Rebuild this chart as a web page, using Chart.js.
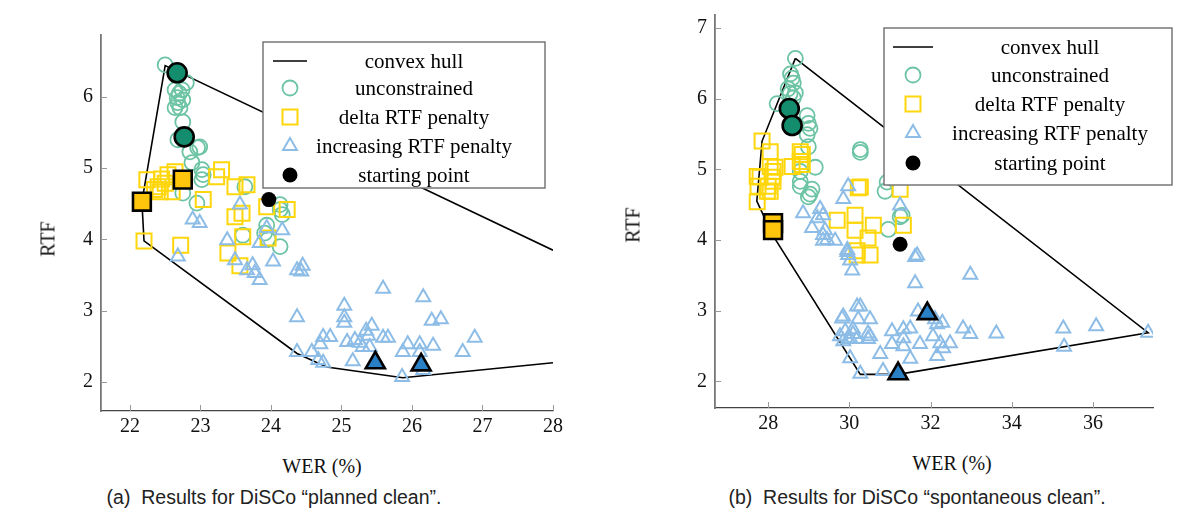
<!DOCTYPE html>
<html>
<head>
<meta charset="utf-8">
<script src="https://cdn.jsdelivr.net/npm/chart.js@4/dist/chart.umd.min.js"></script>
<style>
  body { margin:0; background:#fff; width:1182px; height:517px; position:relative; overflow:hidden; }
  canvas { position:absolute; top:0; }
  .lbl { position:absolute; font-family:"Liberation Serif", serif; font-size:20px; color:#111; white-space:nowrap; transform:translate(-50%,-50%); }
  .rot { transform:translate(-50%,-50%) rotate(-90deg); }
  .cap { position:absolute; font-family:"Liberation Sans", Arial, sans-serif; font-size:19.5px; color:#222; white-space:pre; transform:translate(-50%,-50%); }
</style>
</head>
<body>
<canvas id="chartA" width="590" height="450" style="left:0px"></canvas>
<canvas id="chartB" width="592" height="450" style="left:590px"></canvas>
<div class="lbl rot" style="left:48px;top:239px">RTF</div>
<div class="lbl rot" style="left:633px;top:225px">RTF</div>
<div class="lbl" style="left:322px;top:466px">WER (%)</div>
<div class="lbl" style="left:952px;top:463px">WER (%)</div>
<div class="cap" style="left:274px;top:497px">(a)  Results for DiSCo “planned clean”.</div>
<div class="cap" style="left:917px;top:497px">(b)  Results for DiSCo “spontaneous clean”.</div>
<script>
// ---- data: [WER %, RTF] ----
const legendLabels = ["convex hull", "unconstrained", "delta RTF penalty", "increasing RTF penalty", "starting point"];

// (a) planned clean
const plannedXTicks = [22, 23, 24, 25, 26, 27, 28];
const plannedYTicks = [2, 3, 4, 5, 6];
const plannedHull = [[28,3.85],[22.50,6.44],[22.17,4.53],[22.20,3.98],[24.37,2.40],[24.79,2.21],[25.87,2.06],[28,2.27]];
const plannedUnconstrained = [[22.50,6.45],[22.64,6.10],[22.74,6.10],[22.67,5.99],[22.75,5.96],[22.64,5.85],[22.71,5.85],[22.70,6.05],
  [22.68,5.92],[22.80,6.20],[22.75,5.65],[22.68,5.40],[22.96,5.29],[22.99,5.30],[22.85,5.23],[22.88,5.08],[23.02,4.98],[23.04,4.91],
  [23.02,4.84],[22.75,4.65],[22.95,4.51],[23.63,4.74],[24.13,4.49],[23.94,4.20],[23.91,4.09],[23.60,4.06],[24.16,4.35],[23.96,4.00],
  [24.13,3.90],[24.13,4.42]];
const plannedDelta = [[22.24,4.84],[22.40,4.74],[22.50,4.79],[22.54,4.91],[22.64,4.95],[22.43,4.67],[22.60,4.67],[22.35,4.70],[22.45,4.85],
  [23.04,4.56],[23.30,4.98],[23.23,4.88],[23.49,4.74],[23.66,4.77],[23.49,4.32],[23.59,4.37],[23.94,4.46],[24.23,4.42],[22.20,3.98],
  [22.72,3.92],[23.60,4.04],[23.39,3.81],[23.56,3.63],[23.96,4.02]];
const plannedIncreasing = [[22.89,4.28],[22.99,4.23],[22.68,3.76],[23.38,3.99],[23.49,3.71],[23.56,4.49],[23.66,3.57],[23.74,3.64],
  [23.77,3.53],[23.84,3.43],[23.84,3.95],[23.94,4.16],[24.16,4.13],[24.03,3.69],[24.37,3.57],[24.45,3.63],[24.43,3.55],[24.37,2.91],
  [24.37,2.42],[25.59,3.31],[26.16,3.19],[25.04,3.07],[25.04,2.91],[25.04,2.83],[26.28,2.86],[26.41,2.88],[26.89,2.62],[25.43,2.79],
  [25.35,2.72],[25.38,2.65],[24.74,2.63],[24.84,2.63],[24.70,2.53],[24.58,2.42],[25.08,2.56],[25.19,2.59],[25.26,2.55],[25.30,2.49],
  [25.40,2.49],[25.59,2.62],[25.66,2.62],[25.94,2.53],[26.11,2.53],[26.30,2.51],[25.87,2.42],[26.11,2.42],[26.72,2.42],[24.67,2.31],
  [24.74,2.27],[25.16,2.29],[25.86,2.07],[26.16,2.17]];
const plannedBestUnconstrained = [[22.67,6.34],[22.77,5.44]];
const plannedBestDelta = [[22.17,4.53],[22.75,4.84]];
const plannedBestIncreasing = [[25.48,2.27],[26.13,2.24]];
const plannedStart = [[23.97,4.56]];

// (b) spontaneous clean
const spontXTicks = [28, 30, 32, 34, 36];
const spontYTicks = [2, 3, 4, 5, 6, 7];
const spontHull = [[28.67,6.57],[27.85,5.40],[27.72,4.55],[28.10,4.08],[30.27,2.10],[31.20,2.10],[37.36,2.69],[28.67,6.57]];
const spontUnconstrained = [[28.67,6.57],[28.55,6.35],[28.59,6.29],[28.62,6.22],[28.49,6.14],[28.54,6.07],[28.67,6.08],[28.62,6.01],
  [28.22,5.93],[28.96,5.76],[28.99,5.65],[29.03,5.58],[28.96,5.49],[28.99,5.32],[29.16,5.03],[28.79,4.97],[28.79,4.83],[29.08,4.72],
  [28.99,4.61],[28.79,4.76],[29.03,4.65],[30.27,5.28],[30.27,5.24],[30.88,4.69],[30.93,4.82],[31.25,4.33],[31.30,4.35],[30.96,4.15]];
const spontDelta = [[27.85,5.40],[28.05,5.25],[27.73,4.90],[27.80,4.89],[28.05,5.04],[28.17,5.03],[28.12,4.97],[28.10,4.89],[28.12,4.83],
  [28.00,4.76],[27.98,4.69],[28.05,4.69],[27.75,4.76],[27.73,4.54],[28.59,5.04],[28.79,5.25],[28.84,5.21],[28.79,5.11],[28.84,5.07],
  [30.27,4.75],[30.22,4.74],[29.70,4.28],[30.14,4.35],[30.14,4.14],[30.59,4.21],[30.46,4.03],[30.51,3.79],[30.19,3.79],[31.25,4.72],
  [31.33,4.21],[30.19,3.85]];
const spontIncreasing = [[29.97,4.76],[29.85,4.58],[31.25,4.49],[28.86,4.38],[29.21,4.31],[29.28,4.44],[29.35,4.35],[29.08,4.17],
  [29.40,4.14],[29.65,3.99],[29.35,3.99],[29.95,3.86],[29.97,3.79],[31.62,3.76],[29.35,4.07],[29.45,4.00],[29.95,3.83],[30.02,3.71],
  [30.07,3.57],[29.82,2.89],[29.77,2.64],[29.90,2.71],[29.97,2.60],[30.19,2.60],[30.19,3.06],[30.02,2.33],[31.67,3.78],[32.98,3.51],
  [31.62,3.39],[31.69,2.99],[30.27,3.06],[29.85,2.92],[30.22,2.88],[30.51,2.88],[32.11,2.88],[32.29,2.83],[32.16,2.81],[31.50,2.75],
  [31.33,2.74],[31.05,2.71],[31.33,2.61],[32.80,2.75],[32.98,2.67],[33.62,2.68],[30.09,2.74],[30.09,2.67],[30.46,2.68],[30.51,2.64],
  [30.02,2.61],[30.46,2.60],[29.85,2.57],[32.06,2.64],[32.24,2.54],[32.48,2.54],[32.31,2.47],[31.74,2.53],[31.05,2.53],[31.33,2.50],
  [30.76,2.39],[31.50,2.32],[32.16,2.36],[30.27,2.11],[30.83,2.15],[35.27,2.75],[35.29,2.49],[36.08,2.78],[37.36,2.69]];
const spontBestUnconstrained = [[28.52,5.86],[28.59,5.62]];
const spontBestDelta = [[28.12,4.24],[28.12,4.14]];
const spontBestIncreasing = [[31.20,2.11],[31.92,2.96]];
const spontStart = [[31.25,3.94]];

const GREEN = "#6cc4a4", GREEN_DARK = "#138d6e";
const YELLOW = "#ffd60a", YELLOW_DARK = "#ffc40c";
const BLUE = "#8dbde6", BLUE_DARK = "#2a80c4";
const SERIF = "'Liberation Serif', serif";

function toPoints(pairs) {
  return pairs.map((p) => ({ x: p[0], y: p[1] }));
}

function scatterSet(pairs, style, radius, fill, stroke, width, order) {
  return {
    data: toPoints(pairs),
    pointStyle: style,
    pointRadius: radius,
    pointBackgroundColor: fill,
    pointBorderColor: stroke,
    pointBorderWidth: width,
    order: order,
  };
}

function buildDatasets(s) {
  return [
    { data: toPoints(s.hull), showLine: true, borderColor: "#000", borderWidth: 1.6, pointRadius: 0, fill: false, order: 9 },
    scatterSet(s.unc, "circle", 7.5, "rgba(0,0,0,0)", GREEN, 1.8, 8),
    scatterSet(s.delta, "rect", 10.6, "rgba(0,0,0,0)", YELLOW, 2, 7),
    scatterSet(s.inc, "triangle", 8, "rgba(0,0,0,0)", BLUE, 2, 6),
    scatterSet(s.start, "circle", 7.5, "#000", "#000", 0, 5),
    scatterSet(s.bestUnc, "circle", 9.5, GREEN_DARK, "#000", 2.6, 3),
    scatterSet(s.bestDelta, "rect", 12.6, YELLOW_DARK, "#000", 2.6, 2),
    scatterSet(s.bestInc, "triangle", 11, BLUE_DARK, "#000", 2.6, 1),
  ];
}

function drawMarker(ctx, style, x, y, r, fill, stroke, lw) {
  ctx.beginPath();
  if (style === "circle") {
    ctx.arc(x, y, r, 0, Math.PI * 2);
  } else if (style === "rect") {
    const h = r * Math.SQRT1_2;
    ctx.rect(x - h, y - h, 2 * h, 2 * h);
  } else {
    const a = (2 * Math.PI) / 3;
    ctx.moveTo(x, y - r);
    ctx.lineTo(x + r * Math.sin(a), y - r * Math.cos(a));
    ctx.lineTo(x + r * Math.sin(2 * a), y - r * Math.cos(2 * a));
    ctx.closePath();
  }
  if (fill) { ctx.fillStyle = fill; ctx.fill(); }
  if (stroke && lw) { ctx.strokeStyle = stroke; ctx.lineWidth = lw; ctx.stroke(); }
}

// legend box drawn inside the plot, like the pgfplots one
const boxLegend = {
  id: "boxLegend",
  afterDatasetsDraw(chart, args, o) {
    const ctx = chart.ctx;
    const [x1, y1, x2, y2] = o.box;
    ctx.save();
    ctx.fillStyle = "#fff";
    ctx.fillRect(x1, y1, x2 - x1, y2 - y1);
    ctx.strokeStyle = "#777";
    ctx.lineWidth = 1.5;
    ctx.strokeRect(x1, y1, x2 - x1, y2 - y1);

    ctx.beginPath();
    ctx.moveTo(o.markX - o.lineHalf, o.rows[0]);
    ctx.lineTo(o.markX + o.lineHalf, o.rows[0]);
    ctx.strokeStyle = "#000";
    ctx.lineWidth = 1.6;
    ctx.stroke();
    drawMarker(ctx, "circle", o.markX, o.rows[1], 7.5, null, GREEN, 1.8);
    drawMarker(ctx, "rect", o.markX, o.rows[2], 10.6, null, YELLOW, 2);
    drawMarker(ctx, "triangle", o.markX, o.rows[3], 8, null, BLUE, 2);
    drawMarker(ctx, "circle", o.markX, o.rows[4], 7.5, "#000", null, 0);

    ctx.fillStyle = "#000";
    ctx.font = "21px " + SERIF;
    ctx.textAlign = "center";
    ctx.textBaseline = "middle";
    legendLabels.forEach((t, i) => ctx.fillText(t, o.textX, o.rows[i] + 1));
    ctx.restore();
  },
};

// short tick marks pointing into the plot
const inwardTicks = {
  id: "inwardTicks",
  beforeDatasetsDraw(chart) {
    const ctx = chart.ctx;
    const area = chart.chartArea;
    ctx.save();
    ctx.strokeStyle = "#999";
    ctx.lineWidth = 1;
    chart.scales.x.ticks.forEach((t) => {
      const px = Math.round(chart.scales.x.getPixelForValue(t.value)) + 0.5;
      ctx.beginPath();
      ctx.moveTo(px, area.bottom);
      ctx.lineTo(px, area.bottom - 6);
      ctx.stroke();
    });
    chart.scales.y.ticks.forEach((t) => {
      const py = Math.round(chart.scales.y.getPixelForValue(t.value)) + 0.5;
      ctx.beginPath();
      ctx.moveTo(area.left, py);
      ctx.lineTo(area.left + 6, py);
      ctx.stroke();
    });
    ctx.restore();
  },
};

function zeroPad(s) {
  s.paddingTop = 0; s.paddingBottom = 0; s.paddingLeft = 0; s.paddingRight = 0;
}

function makeChart(id, s, c) {
  return new Chart(document.getElementById(id), {
    type: "scatter",
    data: { datasets: buildDatasets(s) },
    plugins: [inwardTicks, boxLegend],
    options: {
      responsive: false,
      animation: false,
      events: [],
      layout: { padding: { left: 0, right: c.padRight, top: c.padTop, bottom: 0 } },
      plugins: { legend: { display: false }, tooltip: { enabled: false }, boxLegend: c.legend },
      scales: {
        x: {
          type: "linear", min: c.xMin, max: c.xMax,
          afterBuildTicks: (sc) => { sc.ticks = s.xTicks.map((v) => ({ value: v })); },
          afterFit: (sc) => { sc.height = c.xHeight; zeroPad(sc); },
          grid: { display: false, drawTicks: false },
          border: { display: true, color: "#444", width: 1.3 },
          ticks: { padding: 4, autoSkip: false, maxRotation: 0, color: "#111", font: { family: SERIF, size: 20 } },
        },
        y: {
          type: "linear", min: c.yMin, max: c.yMax,
          afterBuildTicks: (sc) => { sc.ticks = s.yTicks.map((v) => ({ value: v })); },
          afterFit: (sc) => { sc.width = c.yWidth; zeroPad(sc); },
          grid: { display: false, drawTicks: false },
          border: { display: true, color: "#777", width: 1.8 },
          ticks: { padding: 8, autoSkip: false, color: "#111", font: { family: SERIF, size: 20 } },
        },
      },
    },
  });
}

makeChart("chartA", {
  hull: plannedHull, unc: plannedUnconstrained, delta: plannedDelta, inc: plannedIncreasing, start: plannedStart,
  bestUnc: plannedBestUnconstrained, bestDelta: plannedBestDelta, bestInc: plannedBestIncreasing,
  xTicks: plannedXTicks, yTicks: plannedYTicks,
}, {
  xMin: 21.59, xMax: 28, yMin: 1.593, yMax: 6.87,
  padRight: 37, padTop: 35, xHeight: 39, yWidth: 101,
  legend: { box: [263, 42, 545, 188], rows: [61, 88, 117, 146, 175], markX: 290, lineHalf: 17, textX: 414 },
});

makeChart("chartB", {
  hull: spontHull, unc: spontUnconstrained, delta: spontDelta, inc: spontIncreasing, start: spontStart,
  bestUnc: spontBestUnconstrained, bestDelta: spontBestDelta, bestInc: spontBestIncreasing,
  xTicks: spontXTicks, yTicks: spontYTicks,
}, {
  xMin: 26.69, xMax: 37.48, yMin: 1.625, yMax: 7.18,
  padRight: 29, padTop: 8, xHeight: 42, yWidth: 125,
  legend: { box: [294, 28, 582, 185], rows: [47, 75, 104, 133, 163], markX: 323, lineHalf: 20, textX: 460 },
});
</script>
</body>
</html>
